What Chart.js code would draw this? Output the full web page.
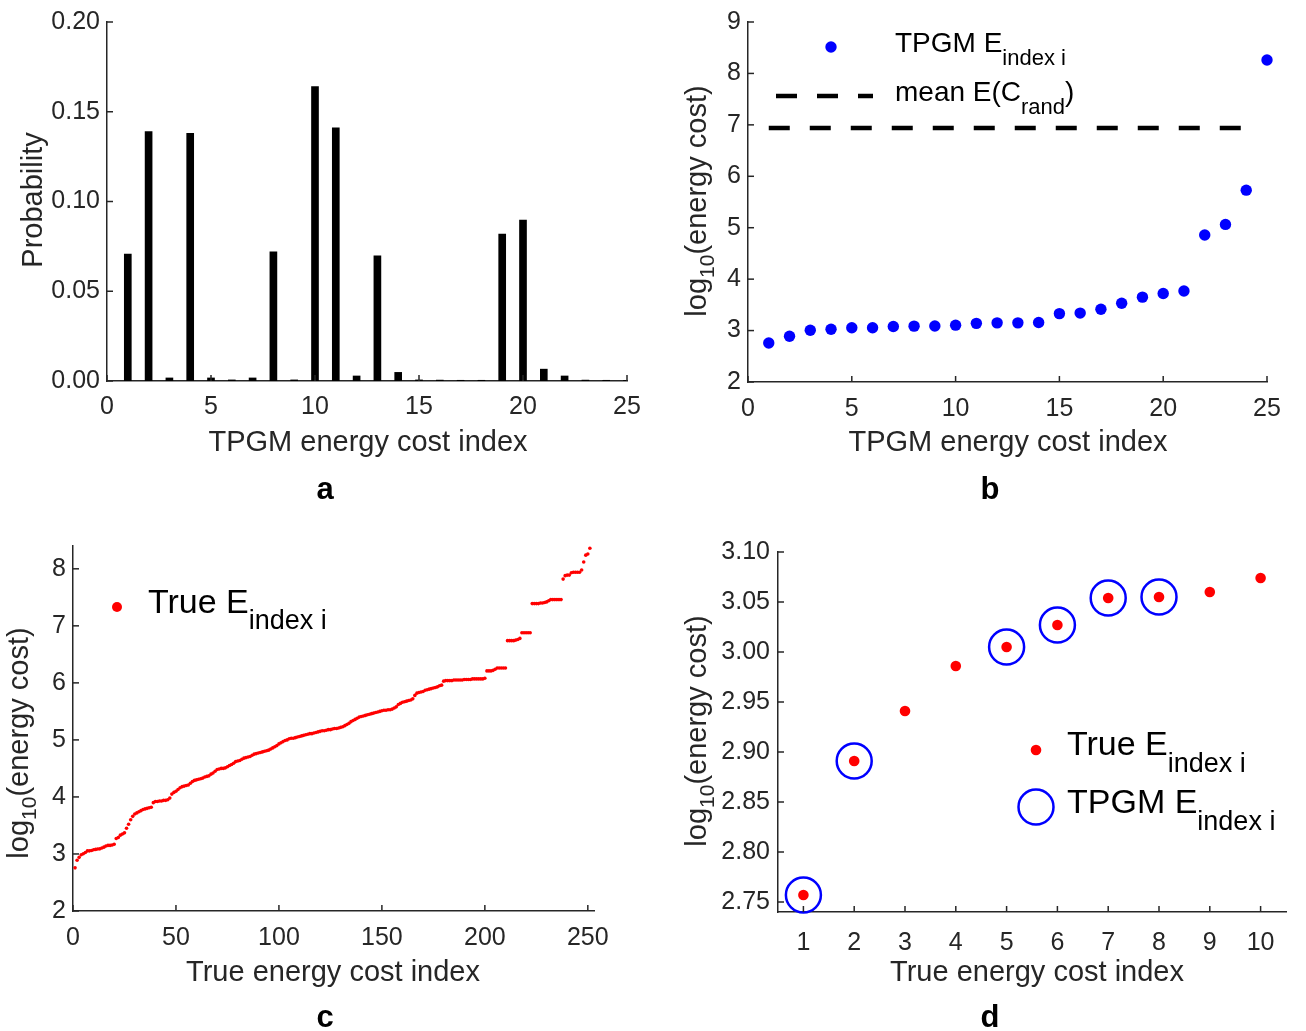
<!DOCTYPE html>
<html>
<head>
<meta charset="utf-8">
<script src="https://cdn.jsdelivr.net/npm/chart.js@4.4.1/dist/chart.umd.min.js"></script>
<style>
  html, body { margin: 0; padding: 0; background: #fff; }
  #wrap { position: relative; width: 1306px; height: 1031px; }
  .panel { position: absolute; left: 0; top: 0; width: 1306px; height: 1031px; }
</style>
</head>
<body>
<div id="wrap">
  <div class="panel"><canvas id="chartA"></canvas></div>
  <div class="panel"><canvas id="chartB"></canvas></div>
  <div class="panel"><canvas id="chartC"></canvas></div>
  <div class="panel"><canvas id="chartD"></canvas></div>
</div>
<script>
// ---- data ----
const tpgmIndex = [1, 2, 3, 4, 5, 6, 7, 8, 9, 10, 11, 12, 13, 14, 15, 16, 17, 18, 19, 20, 21, 22, 23, 24, 25];
const tpgmProb = [0.0707, 0.1389, 0.0017, 0.1380, 0.0017, 0.0006, 0.0017, 0.0720, 0.0006, 0.1640,
                  0.1410, 0.0028, 0.0698, 0.0048, 0.0006, 0.0005, 0.0004, 0.0004, 0.0818, 0.0897,
                  0.0066, 0.0028, 0.0005, 0.0004, 0.0003];
const tpgmLogCost = [2.757, 2.891, 3.005, 3.027, 3.054, 3.055, 3.080, 3.086, 3.090, 3.105,
                     3.140, 3.150, 3.150, 3.157, 3.330, 3.340, 3.416, 3.530, 3.650, 3.720,
                     3.770, 4.857, 5.064, 5.730, 8.260];
const meanRandLogCost = 6.94;
const meanRandRange = [1, 24];

const trueLogCost = [
  2.757, 2.891, 2.941, 2.986, 3.005, 3.027, 3.054, 3.055, 3.060, 3.074,
  3.08, 3.086, 3.09, 3.105, 3.12, 3.14, 3.15, 3.15, 3.157, 3.17,
  3.27, 3.29, 3.33, 3.35, 3.37, 3.45, 3.52, 3.60, 3.66, 3.70,
  3.72, 3.74, 3.76, 3.78, 3.79, 3.80, 3.81, 3.82, 3.90, 3.92,
  3.92, 3.93, 3.93, 3.94, 3.94, 3.95, 3.98, 4.05, 4.08, 4.10,
  4.13, 4.16, 4.18, 4.19, 4.20, 4.21, 4.24, 4.27, 4.29, 4.30,
  4.31, 4.32, 4.33, 4.35, 4.36, 4.37, 4.40, 4.42, 4.45, 4.48,
  4.49, 4.50, 4.50, 4.51, 4.53, 4.55, 4.57, 4.59, 4.62, 4.63,
  4.64, 4.66, 4.68, 4.69, 4.70, 4.71, 4.73, 4.75, 4.76, 4.77,
  4.78, 4.79, 4.80, 4.81, 4.82, 4.84, 4.86, 4.88, 4.90, 4.93,
  4.95, 4.97, 4.99, 5.00, 5.02, 5.03, 5.03, 5.04, 5.05, 5.06,
  5.07, 5.08, 5.09, 5.10, 5.11, 5.11, 5.12, 5.13, 5.14, 5.15,
  5.16, 5.16, 5.17, 5.18, 5.18, 5.19, 5.20, 5.20, 5.21, 5.22,
  5.23, 5.25, 5.27, 5.29, 5.32, 5.34, 5.36, 5.38, 5.40, 5.41,
  5.42, 5.43, 5.44, 5.45, 5.46, 5.47, 5.48, 5.49, 5.50, 5.51,
  5.52, 5.52, 5.53, 5.53, 5.54, 5.56, 5.58, 5.62, 5.64, 5.66,
  5.67, 5.68, 5.69, 5.70, 5.72, 5.78, 5.82, 5.83, 5.84, 5.85,
  5.87, 5.88, 5.89, 5.90, 5.91, 5.92, 5.93, 5.95, 5.96, 6.03,
  6.04, 6.04, 6.04, 6.04, 6.05, 6.05, 6.05, 6.05, 6.05, 6.06,
  6.06, 6.06, 6.06, 6.07, 6.07, 6.07, 6.07, 6.07, 6.07, 6.08,
  6.21, 6.21, 6.21, 6.22, 6.24, 6.26, 6.26, 6.26, 6.26, 6.26,
  6.74, 6.74, 6.74, 6.74, 6.75, 6.76, 6.78, 6.88, 6.88, 6.88,
  6.88, 6.88, 7.39, 7.39, 7.39, 7.39, 7.40, 7.40, 7.41, 7.42,
  7.44, 7.46, 7.46, 7.46, 7.46, 7.46, 7.46, 7.82, 7.88, 7.89,
  7.89, 7.93, 7.94, 7.94, 7.94, 7.94, 7.98, 8.12, 8.24, 8.26,
  8.36
];

const zoomIndex = [1, 2, 3, 4, 5, 6, 7, 8, 9, 10];
const tpgmHitIndex = [1, 2, 5, 6, 7, 8];

// ---- styling helpers ----
const FONT = '"Liberation Sans", Arial, Helvetica, sans-serif';
const AXIS = '#262626';
const Y_W = 70, X_H = 40;
const TICK_SIZE = 25, TITLE_SIZE = 29;

function font(size, bold) {
  return (bold ? 'bold ' : '') + size + 'px ' + FONT;
}

// draw text made of pieces [text, size, dy] (dy for subscripts)
function richText(ctx, parts, x, y, opt) {
  opt = opt || {};
  ctx.save();
  ctx.translate(x, y);
  if (opt.rotate) ctx.rotate(opt.rotate);
  ctx.textAlign = 'left';
  ctx.textBaseline = 'alphabetic';
  ctx.fillStyle = opt.color || '#000';
  let total = 0;
  parts.forEach(p => { ctx.font = font(p[1], opt.bold); total += ctx.measureText(p[0]).width; });
  let cx = opt.align === 'center' ? -total / 2 : 0;
  parts.forEach(p => {
    ctx.font = font(p[1], opt.bold);
    ctx.fillText(p[0], cx, p[2] || 0);
    cx += ctx.measureText(p[0]).width;
  });
  ctx.restore();
}

function pad(L, T, R, B) {
  return { left: L - Y_W, top: T, right: 1306 - R, bottom: 1031 - B - X_H };
}

function axis(min, max, step, fmt, tickPad, isX, tickValues) {
  const opts = {
    type: 'linear', min: min, max: max, offset: false,
    grid: { display: false, drawTicks: false },
    border: { display: true, color: AXIS, width: 1.5 },
    ticks: {
      stepSize: step, includeBounds: false, padding: tickPad, color: AXIS,
      font: { family: FONT, size: TICK_SIZE }, maxRotation: 0, autoSkip: false,
      callback: fmt
    },
    afterFit: isX ? (s => { s.height = X_H; }) : (s => { s.width = Y_W; })
  };
  if (tickValues) opts.afterBuildTicks = s => { s.ticks = tickValues.map(v => ({ value: v })); };
  return opts;
}

// MATLAB style ticks pointing into the plot
const inwardTicks = {
  id: 'inwardTicks',
  afterDraw(chart) {
    const { ctx, chartArea, scales } = chart;
    ctx.save();
    ctx.strokeStyle = AXIS;
    ctx.lineWidth = 1.5;
    scales.x.ticks.forEach(t => {
      const px = scales.x.getPixelForValue(t.value);
      ctx.beginPath(); ctx.moveTo(px, chartArea.bottom); ctx.lineTo(px, chartArea.bottom - 6); ctx.stroke();
    });
    scales.y.ticks.forEach(t => {
      const py = scales.y.getPixelForValue(t.value);
      ctx.beginPath(); ctx.moveTo(chartArea.left, py); ctx.lineTo(chartArea.left + 6, py); ctx.stroke();
    });
    ctx.restore();
  }
};

function decor(fn) {
  return { id: 'decor', afterDraw(chart) { fn(chart.ctx); } };
}

const LOG_TITLE = [['log', TITLE_SIZE], ['10', 21, 8], ['(energy cost)', TITLE_SIZE]];
const UP = -Math.PI / 2;
const fix2 = v => Number(v).toFixed(2);
const int = v => String(Math.round(v));

const baseOpts = {
  responsive: true, maintainAspectRatio: false, animation: false,
  plugins: { legend: { display: false }, tooltip: { enabled: false } }
};

// ---- panel a ----
new Chart(document.getElementById('chartA'), {
  type: 'bar',
  data: {
    datasets: [{
      data: tpgmIndex.map((x, i) => ({ x: x, y: tpgmProb[i] })),
      backgroundColor: '#000', borderWidth: 0, barThickness: 7
    }]
  },
  options: Object.assign({}, baseOpts, {
    layout: { padding: pad(107, 20, 627, 381) },
    scales: {
      x: axis(0, 25, 5, int, 11, true),
      y: axis(0, 0.2, 0.05, fix2, 7, false)
    }
  }),
  plugins: [inwardTicks, decor(ctx => {
    richText(ctx, [['Probability', TITLE_SIZE]], 42, 200, { rotate: UP, align: 'center', color: AXIS });
    richText(ctx, [['TPGM energy cost index', TITLE_SIZE]], 368, 451, { align: 'center', color: AXIS });
    richText(ctx, [['a', 31]], 325, 499, { align: 'center', bold: true });
  })]
});

// ---- panel b ----
new Chart(document.getElementById('chartB'), {
  type: 'scatter',
  data: {
    datasets: [{
      data: tpgmIndex.map((x, i) => ({ x: x, y: tpgmLogCost[i] })),
      pointRadius: 5.7, pointBackgroundColor: '#0000ff', pointBorderWidth: 0, clip: false
    }, {
      type: 'line',
      data: meanRandRange.map(x => ({ x: x, y: meanRandLogCost })),
      borderColor: '#000', borderWidth: 4.5, borderDash: [21, 20], borderCapStyle: 'butt',
      pointRadius: 0, fill: false
    }]
  },
  options: Object.assign({}, baseOpts, {
    layout: { padding: pad(748, 20, 1267, 382) },
    scales: {
      x: axis(0, 25, 5, int, 12, true),
      y: axis(2, 9, 1, int, 7, false)
    }
  }),
  plugins: [inwardTicks, decor(ctx => {
    richText(ctx, LOG_TITLE, 706, 201, { rotate: UP, align: 'center', color: AXIS });
    richText(ctx, [['TPGM energy cost index', TITLE_SIZE]], 1008, 451, { align: 'center', color: AXIS });
    richText(ctx, [['b', 31]], 990, 499, { align: 'center', bold: true });
    // legend
    ctx.save();
    ctx.fillStyle = '#0000ff';
    ctx.beginPath(); ctx.arc(831, 47, 5.7, 0, Math.PI * 2); ctx.fill();
    ctx.strokeStyle = '#000'; ctx.lineWidth = 4.5; ctx.setLineDash([21, 20]);
    ctx.beginPath(); ctx.moveTo(776, 96); ctx.lineTo(873, 96); ctx.stroke();
    ctx.restore();
    richText(ctx, [['TPGM E', 28], ['index i', 22, 13]], 895, 52);
    richText(ctx, [['mean E(C', 28], ['rand', 22, 13], [')', 28]], 895, 101);
  })]
});

// ---- panel c ----
new Chart(document.getElementById('chartC'), {
  type: 'scatter',
  data: {
    datasets: [{
      data: trueLogCost.map((v, i) => ({ x: i + 1, y: v })),
      pointRadius: 1.8, pointBackgroundColor: '#ff0000', pointBorderWidth: 0, clip: false
    }]
  },
  options: Object.assign({}, baseOpts, {
    layout: { padding: pad(73, 546, 594, 911) },
    scales: {
      x: axis(0, 253, 50, int, 12, true),
      y: axis(2, 8.4, 1, int, 7, false)
    }
  }),
  plugins: [inwardTicks, decor(ctx => {
    richText(ctx, LOG_TITLE, 28, 743, { rotate: UP, align: 'center', color: AXIS });
    richText(ctx, [['True energy cost index', TITLE_SIZE]], 333, 981, { align: 'center', color: AXIS });
    richText(ctx, [['c', 31]], 325, 1027, { align: 'center', bold: true });
    ctx.save();
    ctx.fillStyle = '#ff0000';
    ctx.beginPath(); ctx.arc(117, 607, 5, 0, Math.PI * 2); ctx.fill();
    ctx.restore();
    richText(ctx, [['True E', 34], ['index i', 27, 16]], 148, 613);
  })]
});

// ---- panel d ----
const zoomTrue = zoomIndex.map(i => trueLogCost[i - 1]);
new Chart(document.getElementById('chartD'), {
  type: 'scatter',
  data: {
    datasets: [{
      data: zoomIndex.map((x, i) => ({ x: x, y: zoomTrue[i] })),
      pointRadius: 5.3, pointBackgroundColor: '#ff0000', pointBorderWidth: 0, clip: false
    }, {
      data: tpgmHitIndex.map(x => ({ x: x, y: trueLogCost[x - 1] })),
      pointRadius: 17.5, pointBackgroundColor: 'rgba(0,0,0,0)', pointBorderColor: '#0000ff',
      pointBorderWidth: 2.5, clip: false
    }]
  },
  options: Object.assign({}, baseOpts, {
    layout: { padding: pad(778, 552, 1296, 912) },
    scales: {
      x: axis(0.5, 10.5, 1, int, 16, true, zoomIndex),
      y: axis(2.74, 3.10, 0.05, fix2, 8, false)
    }
  }),
  plugins: [inwardTicks, decor(ctx => {
    richText(ctx, LOG_TITLE, 706, 731, { rotate: UP, align: 'center', color: AXIS });
    richText(ctx, [['True energy cost index', TITLE_SIZE]], 1037, 981, { align: 'center', color: AXIS });
    richText(ctx, [['d', 31]], 990, 1027, { align: 'center', bold: true });
    ctx.save();
    ctx.fillStyle = '#ff0000';
    ctx.beginPath(); ctx.arc(1036, 750, 5.3, 0, Math.PI * 2); ctx.fill();
    ctx.strokeStyle = '#0000ff'; ctx.lineWidth = 2.5;
    ctx.beginPath(); ctx.arc(1036, 807, 17.5, 0, Math.PI * 2); ctx.stroke();
    ctx.restore();
    richText(ctx, [['True E', 34], ['index i', 27, 17]], 1067, 755);
    richText(ctx, [['TPGM E', 34], ['index i', 27, 17]], 1067, 813);
  })]
});
</script>
</body>
</html>
